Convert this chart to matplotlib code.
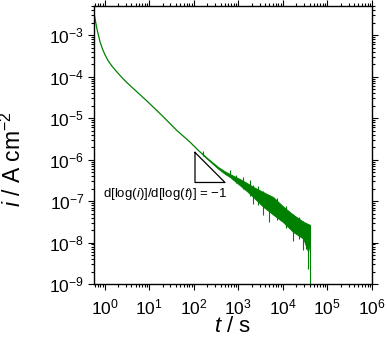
"""
Chronoamperometric current decay on log-log axes.
"""

import matplotlib
matplotlib.use('Agg')
import matplotlib.pyplot as plt
from matplotlib.ticker import FixedLocator, LogLocator, NullFormatter
import numpy as np

#### Data
# smooth early part of the transient
t_smooth = [0.60, 0.67, 0.79, 0.90, 1.03, 1.20, 1.47, 1.91, 2.47, 3.28, 4.42,
            8.8, 19.2, 41.6, 82.6, 127, 150]
i_smooth = [2.77e-3, 1.45e-3, 6.9e-4, 4.6e-4, 3.3e-4, 2.42e-4, 1.78e-4,
            1.28e-4, 9.4e-5, 6.93e-5, 5.16e-5, 2.62e-5, 1.17e-5, 5.07e-6,
            2.65e-6, 1.67e-6, 1.42e-6]

# noisy late part: upper and lower edge of the band
t_band = [150, 200, 350, 504, 650, 1090, 1600, 2170, 3640, 6100, 1.02e4,
          1.71e4, 2.87e4, 3.71e4, 4.05e4]
i_band_hi = [1.44e-6, 1.10e-6, 6.7e-7, 5.2e-7, 4.5e-7, 3.4e-7, 2.7e-7,
             2.2e-7, 1.65e-7, 1.25e-7, 7.4e-8, 4.7e-8, 3.2e-8, 2.8e-8, 2.7e-8]
i_band_lo = [1.40e-6, 1.04e-6, 6.1e-7, 4.5e-7, 3.8e-7, 2.4e-7, 1.7e-7,
             1.25e-7, 7.3e-8, 4.7e-8, 3.1e-8, 1.8e-8, 1.25e-8, 6.0e-9, 1.0e-8]

# single spikes out of the band
spike_t = [165, 640, 900, 1300, 1800, 2170, 2800, 3640, 5000, 7500, 1.2e4,
           1.71e4, 2.3e4, 2.87e4, 3.4e4, 3.7e4, 4.1e4]
spike_lo = [1.25e-6, 4.0e-7, 2.8e-7, 2.0e-7, 1.3e-7, 8.7e-8, 8.0e-8, 4.5e-8,
            3.1e-8, 3.5e-8, 2.2e-8, 1.12e-8, 1.2e-8, 6.5e-9, 7.0e-9, 2.3e-9,
            1e-9]
spike_hi = [1.6e-6, 5.5e-7, 4.3e-7, 3.8e-7, 3.2e-7, 2.5e-7, 2.3e-7, 1.8e-7,
            1.4e-7, 1.2e-7, 7.5e-8, 4.8e-8, 4.2e-8, 3.3e-8, 3.0e-8, 2.6e-8,
            2.6e-8]

# slope triangle corners
tri_t = [107, 107, 504, 107]
tri_i = [1.49e-6, 2.81e-7, 2.81e-7, 1.49e-6]

x_ticks = [1e0, 1e1, 1e2, 1e3, 1e4, 1e5, 1e6]
y_ticks = [1e-9, 1e-8, 1e-7, 1e-6, 1e-5, 1e-4, 1e-3]
x_lim = (0.58, 1e6)
y_lim = (1e-9, 5.1e-3)


def main():
    plt.rcParams['font.family'] = ['Liberation Sans', 'DejaVu Sans']
    plt.rcParams['mathtext.fontset'] = 'custom'
    plt.rcParams['mathtext.rm'] = 'Liberation Sans'
    plt.rcParams['mathtext.it'] = 'Liberation Sans:italic'

    fig = plt.figure(figsize=(3.87, 3.39), dpi=100)
    ax = fig.add_axes([0.243, 0.162, 0.718, 0.821])
    green = '#008000'

    ax.loglog(t_smooth, i_smooth, color=green, lw=0.9)
    ax.fill_between(t_band, i_band_lo, i_band_hi, color=green, lw=0.6,
                    edgecolor=green)
    ax.vlines(spike_t, spike_lo, spike_hi, color=green, lw=0.8)

    ax.plot(tri_t, tri_i, color='black', lw=0.9)
    ax.text(0.93, 1.45e-7,
            r'd[log($i$)]/d[log($t$)] = $-$1',
            fontsize=9.5, va='center', ha='left')

    ax.set_xlim(*x_lim)
    ax.set_ylim(*y_lim)
    ax.xaxis.set_major_locator(FixedLocator(x_ticks))
    ax.yaxis.set_major_locator(FixedLocator(y_ticks))
    for axis in (ax.xaxis, ax.yaxis):
        axis.set_minor_locator(LogLocator(base=10, subs=np.arange(2, 10),
                                          numticks=100))
        axis.set_minor_formatter(NullFormatter())
    ax.tick_params(which='both', direction='out', top=True, right=True,
                   labelsize=12.5, width=0.8)
    ax.tick_params(which='major', length=4.5)
    ax.tick_params(which='minor', length=2.5)
    ax.tick_params(axis='x', which='major', pad=5)
    ax.tick_params(axis='y', which='major', pad=2.5)
    for s in ax.spines.values():
        s.set_linewidth(1.0)

    ax.set_xlabel(r'$t$ / s', fontsize=16)
    ax.set_ylabel(r'$i$ / A cm$^{-2}$', fontsize=16.5)
    ax.xaxis.set_label_coords(0.5, -0.115)
    ax.yaxis.set_label_coords(-0.245, 0.45)

    fig.savefig('out.png', dpi=100)


if __name__ == '__main__':
    main()
